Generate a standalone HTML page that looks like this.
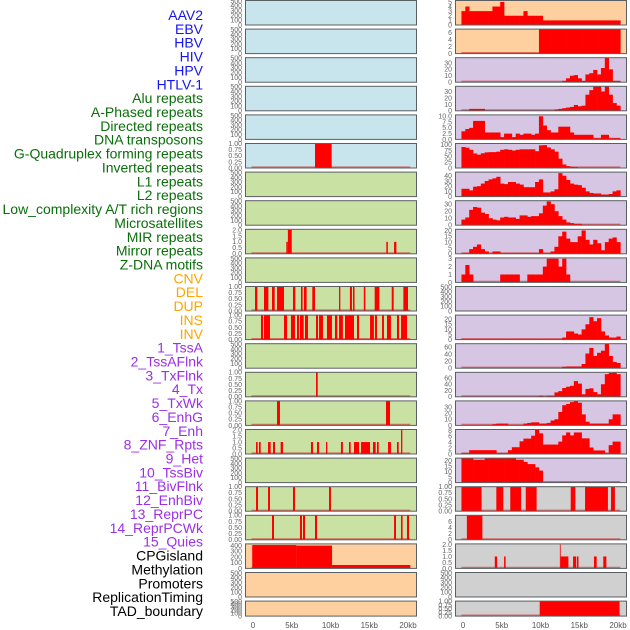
<!DOCTYPE html>
<html><head><meta charset="utf-8">
<style>
html,body{margin:0;padding:0;background:#fff;}
svg{display:block;font-family:"Liberation Sans",sans-serif;}
</style></head>
<body>
<svg id="chart" width="630" height="630" viewBox="0 0 630 630"></svg>
<script>
// ---- labels ----
const trackLabels = ["AAV2","EBV","HBV","HIV","HPV","HTLV-1","Alu repeats","A-Phased repeats","Directed repeats","DNA transposons","G-Quadruplex forming repeats","Inverted repeats","L1 repeats","L2 repeats","Low_complexity A/T rich regions","Microsatellites","MIR repeats","Mirror repeats","Z-DNA motifs","CNV","DEL","DUP","INS","INV","1_TssA","2_TssAFlnk","3_TxFlnk","4_Tx","5_TxWk","6_EnhG","7_Enh","8_ZNF_Rpts","9_Het","10_TssBiv","11_BivFlnk","12_EnhBiv","13_ReprPC","14_ReprPCWk","15_Quies","CPGisland","Methylation","Promoters","ReplicationTiming","TAD_boundary"];
const labelGroups = [6,13,5,15,5]; // counts per color group
const groupColors = ["#1515ee","#0a6e0a","#ffa500","#9b30e6","#000000"];

// ---- x axis ----
const xTickValues = [0,5,10,15,20];
const xTickLabels = ["0","5kb","10kb","15kb","20kb"];

// ---- left panel segments [startKb, endKb, value] ----
const leftGQuad = [[8.0,10.15,1]];
const leftMIR = [[4.3,4.5,1],[4.5,5.0,2],[17.2,17.4,1],[18.2,18.5,1]];
const leftDEL = [[0.26,0.56,1],[1.42,1.98,1],[2.45,2.8,1],[3.1,4.0,1],[5.16,5.46,1],[6.19,6.4,1],[6.58,6.92,1],[7.65,8.0,1],[11.1,11.27,1],[12.5,12.77,1],[12.9,13.1,1],[14.3,14.5,1],[15.7,16.3,1],[17.9,18.15,1],[19.4,20.0,1]];
const leftINS = [[1.03,1.29,1],[1.42,2.19,1],[4.0,4.39,1],[4.9,5.42,1],[5.68,5.94,1],[6.06,6.54,1],[6.71,7.1,1],[8.13,8.39,1],[8.52,9.03,1],[9.55,10.19,1],[10.58,10.88,1],[11.1,11.6,1],[11.87,13.03,1],[13.42,13.68,1],[15.1,15.6,1],[15.74,16.0,1],[16.65,16.9,1],[17.29,17.8,1],[18.58,18.84,1],[19.1,19.87,1]];
const leftTxFlnk = [[8.13,8.35,1]];
const leftTx = [[3.1,3.48,1],[17.16,17.68,1]];
const leftZNF = [[0.39,0.6,1],[0.77,0.99,1],[1.94,2.28,1],[2.58,2.84,1],[3.57,3.87,1],[7.48,7.74,1],[8.26,8.52,1],[9.42,9.59,1],[11.35,11.6,1],[12.39,12.6,1],[13.03,13.68,1],[13.94,15.1,1],[15.48,15.83,1],[16.0,16.22,1],[17.42,17.8,1],[18.58,18.8,1],[19.1,19.27,2]];
const leftBivFlnk = [[0.39,0.65,1],[1.94,2.19,1],[5.16,5.42,1],[9.81,10.06,1]];
const leftEnhBiv = [[2.45,2.71,1],[6.06,6.32,1],[6.45,6.71,1],[8.0,8.26,1],[18.2,18.45,1],[19.1,19.3,1],[19.87,20.13,1]];
const leftCPG = [[-0.1,5.6,410],[5.6,10.2,400],[10.2,20.3,60]];

// ---- right panel binned values (0.5kb bins starting at -0.2kb) ----
const rightAAV2 = [3,4,3,3,3,3,3,3,4,4,5,2,2,2,2,2,3,2,2,2,2,1,1,1,1,1,1,1,1,1,1,1,1,1,1,1,1,1,1,1,1];
const rightEBV = [0.1,0.1,0.1,0.1,0.1,0.1,0.1,0.1,0.1,0.1,0.1,0.1,0.1,0.1,0.1,0.1,0.1,0.1,0.1,0.1,7,7,7,7,7,7,7,7,7,7,7,7,7,7,7,7,7,7,7,7,7];
const rightHIV = [0,0,0,0,0,0,0,0,0,0,0,0,0,0,0,0,0,0,0,0,0,0,0,0,0,0,2,6,10,11,6,2,12,14,19,12,22,38,20,2,2];
const rightHPV = [0,0,3,3,3,3,0,0,0,0,0,0,0,0,0,0,0,0,0,0,0,0,0,0,2,3,4,5,6,9,7,8,25,32,38,38,30,38,25,12,8];
const rightAlu = [3.5,4.5,5,8,8,8,3,3,3,3,1,2.5,2.5,1,2.5,2,2.5,2.5,2,2.5,10,6,4,3,3,5.5,5.5,5.5,3,2,2,2,2,2,0.5,0.5,2,2,0.5,0.5,0.5];
const rightGQuad = [90,87,78,62,57,63,67,68,68,70,78,80,78,75,78,80,80,80,80,72,97,98,88,80,70,40,15,8,5,4,0,0,0,0,0,0,0,0,0,0,0];
const rightInverted = [15,15,12,19,20,25,30,33,35,38,25,24,28,28,25,23,18,18,18,28,33,8,8,10,14,45,40,32,25,23,22,17,10,7,6,6,4,4,5,10,12];
const rightL1 = [8,11,22,26,25,18,16,10,8,7,11,12,11,11,9,14,14,12,13,13,17,28,34,30,20,13,8,4,3,2,2,0.5,0.5,0.5,0.5,0.5,0.5,0.5,0.5,0.5,0.5];
const rightL2 = [0.5,0.5,4,6,8,4,2,0,2,2,0.5,0.5,0.5,0.5,0.5,0.5,0.5,0.5,0.5,0.5,4,0.5,0.5,2,6,15,19,13,10,10,15,20,12,8,12,9,3,10,13,14,10];
const rightLowComplex = [1,2.2,1,0,0,0,0,0,0,0,1,1,1,1,1,0,0,1,1,1,1,2,3,3,3,2,3,1,0,0,0,0,0,0,0,0,0,0,0,0,0];
const rightINS = [0.3,0.3,0.3,0.3,0.3,0.3,0.3,0.3,0.3,0.3,0.3,0.3,0.3,0.3,0.3,0.3,0.3,0.3,0.3,0.3,0.3,0.3,0.3,0.3,0.3,0.3,2,8,8,6,5,10,15,22,18,21,8,4,2,2,3];
const rightTssA = [1,1,1,1,1,1,1,1,1,1,1,1,1,1,1,1,1,1,1,1,1,1,1,1,1,1,4,5,5,5,5,12,42,58,35,44,50,70,35,18,15];
const rightTssAFlnk = [1,1,1,1,1,1,1,1,1,1,1,1,1,1,1,1,1,1,1,1,3,0.5,3,3,14,18,28,32,35,50,42,8,25,27,15,8,40,72,76,77,72];
const rightTx = [0.5,0.5,0.5,0.5,0.5,0.5,0.5,0.5,2,3,3,3,0.5,0.5,0.5,0.5,3,4,5,5,3,3,4,8,10,22,33,35,38,40,37,18,6,3,3,3,3,3,10,18,18];
const rightEnh = [0.3,0.3,1.3,1.3,1.3,1.3,1.3,1.3,1.3,0.3,0.3,0.3,1.3,2.3,2.3,4.3,5.2,5.2,6.2,8.2,7,3.2,3.2,3.2,3.2,4.2,6.3,7.3,6.3,7.3,7.3,5.3,5.3,2.2,1.2,1.2,1.2,0.3,3,4.2,4.2];
const rightTssBiv = [22.5,22.5,22.5,21,21,21,22.5,22.5,22.5,22.5,22.5,22.5,22.5,22.5,21,21,19,17,17,14,11,0,0,0,0,0,0,0,0,0,0,0,0,0,0,0,0,0,0,0,0];
// ---- right panel segments ----
const rightEnhBiv = [[-0.2,2.4,1],[4.3,5.2,1],[6.1,7.5,1],[8.1,9.5,1],[13.9,14.5,1],[15.75,18.7,1],[19.1,19.6,1]];
const rightReprPC = [[0.5,2.5,8]];
const rightCPG = [[4.1,4.4,1],[5.3,5.5,1],[12.5,12.6,2],[12.6,13.6,1],[14.2,14.6,1],[14.7,14.9,1],[16.9,17.25,1],[18.1,18.5,1]];
const rightTAD = [[9.9,20.2,1]];

// ---- panel config ----
const BLUE="#c8e4ec", GREEN="#c9e2a4", PEACH="#ffd09f", PURPLE="#d6c6e3", GRAY="#d0d0d0";
const T500=[0,100,200,300,400,500], T1=[0,0.25,0.5,0.75,1], T2=[0,0.5,1,1.5,2];
const leftPanels = [
 [BLUE,510,T500,0,null],[BLUE,510,T500,0,null],[BLUE,510,T500,0,null],[BLUE,510,T500,0,null],[BLUE,510,T500,0,null],
 [BLUE,1,T1,2,leftGQuad],
 [GREEN,510,T500,0,null],[GREEN,510,T500,0,null],[GREEN,2.05,T2,1,leftMIR],[GREEN,510,T500,0,null],
 [GREEN,1,T1,2,leftDEL],[GREEN,1,T1,2,leftINS],[GREEN,510,T500,0,null],[GREEN,1,T1,2,leftTxFlnk],[GREEN,1,T1,2,leftTx],
 [GREEN,2.05,T2,1,leftZNF],[GREEN,510,T500,0,null],[GREEN,1,T1,2,leftBivFlnk],[GREEN,1,T1,2,leftEnhBiv],
 [PEACH,430,[0,100,200,300,400],0,leftCPG],[PEACH,510,T500,0,null],[PEACH,510,T500,0,null]
];
const rightPanels = [
 [PEACH,5.3,[0,1,2,3,4,5],0,rightAAV2,"bins"],[PEACH,7,[0,2,4,6],0,rightEBV,"bins"],
 [PURPLE,38,[0,10,20,30],0,rightHIV,"bins"],[PURPLE,38,[0,10,20,30],0,rightHPV,"bins"],
 [PURPLE,10.6,[0,2.5,5,7.5,10],1,rightAlu,"bins"],[PURPLE,105,[0,25,50,75,100],0,rightGQuad,"bins"],
 [PURPLE,47,[0,10,20,30,40],0,rightInverted,"bins"],[PURPLE,35,[0,10,20,30],0,rightL1,"bins"],
 [PURPLE,21,[0,5,10,15,20],0,rightL2,"bins"],[PURPLE,3.1,[0,1,2,3],0,rightLowComplex,"bins"],
 [PURPLE,510,T500,0,null,""],[PURPLE,24,[0,5,10,15,20],0,rightINS,"bins"],
 [PURPLE,70,[0,20,40,60],0,rightTssA,"bins"],[PURPLE,78,[0,20,40,60],0,rightTssAFlnk,"bins"],
 [PURPLE,40,[0,10,20,30],0,rightTx,"bins"],[PURPLE,8.3,[0,2,4,6,8],0,rightEnh,"bins"],
 [PURPLE,22.5,[0,5,10,15,20],0,rightTssBiv,"bins"],[GRAY,1,T1,2,rightEnhBiv,"segs"],
 [GRAY,8,[0,2,4,6],0,rightReprPC,"segs"],[GRAY,2.05,T2,1,rightCPG,"segs"],
 [GRAY,510,T500,0,null,""],[GRAY,1,T1,2,rightTAD,"segs"]
];

const NS="http://www.w3.org/2000/svg";
const svg=document.getElementById('chart');
function mk(tag,attrs,parent){const e=document.createElementNS(NS,tag);for(const k in attrs)e.setAttribute(k,attrs[k]);(parent||svg).appendChild(e);return e;}

let gi=0, gc=0;
trackLabels.forEach((t,i)=>{
  const el=mk('text',{x:203,y:15+i*13.86+5,'text-anchor':'end','font-size':14,fill:groupColors[gi]});
  el.textContent=t;
  
  
  gc++; if(gc>=labelGroups[gi]){gi++;gc=0;}
});

function drawPanel(side,i,cfg){
  const [bg,ymax,ticks,dec,data,kind]=cfg;
  const px0 = side==='left'?245.5:455.5, pw=171;
  const x0kb = side==='left'?253:463;
  const top=i*28.6+0.5, h=(i===21?15:24.5);
  const xs=kb=>x0kb+kb*7.75;
  const ys=v=>top+h-(v/ymax)*h;
  const g=mk('g',{});
  
  
  const bgr=mk('rect',{x:px0,y:top,width:pw,height:h,fill:bg},g);
  
  
  if(data){
    mk('line',{x1:xs(-0.2),x2:xs(20.3),y1:top+h-0.8,y2:top+h-0.8,stroke:'rgba(210,40,40,0.6)','stroke-width':1.6},g);
    if(kind==='bins'){
      data.forEach((v,j)=>{
        if(v<=0)return;
        const a=-0.2+0.5*j;
        const r=mk('rect',{x:xs(a),y:ys(v),width:0.5*7.75+0.3,height:top+h-ys(v),fill:'#ff0000'},g);
        
        
      });
    } else {
      data.forEach(s=>{
        const r=mk('rect',{x:xs(s[0]),y:ys(s[2]),width:Math.max(0.8,xs(s[1])-xs(s[0])),height:top+h-ys(s[2]),fill:'#ff0000'},g);
        
        
      });
    }
  }
  mk('rect',{x:px0,y:top,width:pw,height:h,fill:'none',stroke:'#5a5f63','stroke-width':1},g);
  ticks.forEach(t=>{
    const tx=mk('text',{x:px0-3.5,y:ys(t)+2.4,'text-anchor':'end','font-size':7,fill:'#666'},g);
    tx.textContent=t.toFixed(dec);
    
    
  });
}
leftPanels.forEach((c,i)=>drawPanel('left',i,c));
rightPanels.forEach((c,i)=>drawPanel('right',i,c));

['left','right'].forEach(side=>{
  const x0kb=side==='left'?253:463;
  xTickValues.forEach((v,k)=>{
    const tx=mk('text',{x:x0kb+v*7.75,y:628,'text-anchor':'middle','font-size':8,fill:'#555'});
    tx.textContent=xTickLabels[k];
    
    
  });
});
</script>
</body></html>
